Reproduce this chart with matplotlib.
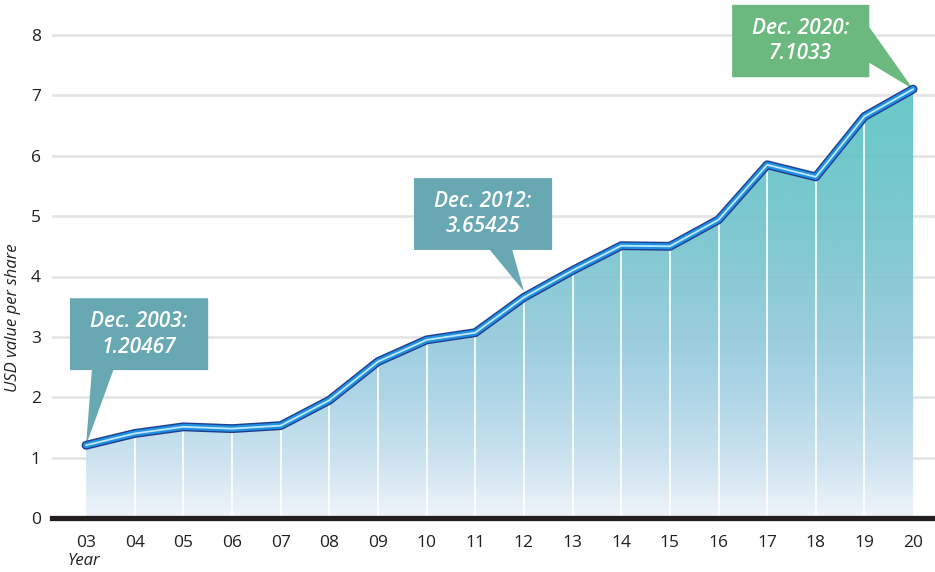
import numpy as np
import matplotlib
matplotlib.use("Agg")
import matplotlib.pyplot as plt
from matplotlib.colors import LinearSegmentedColormap
from matplotlib.patches import Polygon

# Data
years = ['03', '04', '05', '06', '07', '08', '09', '10', '11',
         '12', '13', '14', '15', '16', '17', '18', '19', '20']
values = [1.20467, 1.40, 1.51, 1.48, 1.53, 1.95, 2.59, 2.95, 3.07,
          3.65425, 4.10, 4.51, 4.50, 4.94, 5.85, 5.65, 6.65, 7.1033]
yticks = [0, 1, 2, 3, 4, 5, 6, 7, 8]

# callouts: (index, text, colour)
callouts = [(0, 'Dec. 2003:\n1.20467', '#67a8b2'),
            (9, 'Dec. 2012:\n3.65425', '#67a8b2'),
            (17, 'Dec. 2020:\n7.1033', '#6bb97f')]

x = np.arange(len(years))
y = np.array(values)

plt.rcParams['font.family'] = ['Open Sans', 'DejaVu Sans']

fig = plt.figure(figsize=(9.35, 5.72), dpi=100)
ax = fig.add_axes([52/935, 54/572, 883/935, 518/572])

# grid
for t in yticks[1:]:
    ax.axhline(t, color='#e4e4e4', lw=1.9, zorder=1)

# gradient fill under the curve
grad = LinearSegmentedColormap.from_list('g', [
    (0.0, '#eef4fa'), (0.14, '#c8e1ee'), (0.28, '#aad3e5'),
    (0.42, '#93cadb'), (0.63, '#79c4d0'), (0.85, '#66c4c8'),
    (1.0, '#5fc5c6')])
fill = ax.fill_between(x, 0, y, color='none', lw=0, zorder=2)
im = ax.imshow(np.linspace(0, 1, 256).reshape(-1, 1), cmap=grad,
               origin='lower', aspect='auto', alpha=0.93,
               extent=[x[0], x[-1], 0, y.max()], zorder=2)
im.set_clip_path(fill.get_paths()[0], transform=ax.transData)
ax.set_xlim(-0.70, 17.45)
ax.set_ylim(0, 518/60.375)

# white verticals in the fill
ax.vlines(x[1:-1], 0, y[1:-1], color='white', lw=1.2, zorder=3)

# zero line
ax.axhline(0, color='#231f20', lw=3.8, zorder=5, clip_on=False)

# callouts (drawn below the line)
for idx, txt, col in callouts:
    xi, yi = x[idx], y[idx]
    if idx == 0:
        x0, x1, y0, y1 = xi - 0.33, xi + 2.51, 2.45, 3.64
        poly = [(x0, y0), (xi + 0.12, y0), (xi, yi), (xi + 0.56, y0),
                (x1, y0), (x1, y1), (x0, y1)]
    elif idx == 9:
        x0, x1, y0, y1 = xi - 2.26, xi + 0.58, 4.44, 5.63
        poly = [(x0, y0), (xi - 0.70, y0), (xi, yi + 0.1), (xi - 0.24, y0),
                (x1, y0), (x1, y1), (x0, y1)]
    else:
        x0, x1, y0, y1 = xi - 3.72, xi - 0.90, 7.30, 8.50
        poly = [(x0, y0), (x1, y0), (x1, 7.54), (xi, yi), (x1, 8.13),
                (x1, y1), (x0, y1)]
    ax.add_patch(Polygon(poly, closed=True, fc=col, ec='none',
                         zorder=4, clip_on=False))
    ax.text((x0 + x1) / 2, (y0 + y1) / 2, txt, ha='center', va='center',
            color='white', fontsize=15, fontweight='semibold', style='italic',
            linespacing=1.3, zorder=6)

# the line: dark outline, blue body, light highlight
ax.plot(x, y, color='#213e8e', lw=6.4, solid_capstyle='round',
        solid_joinstyle='round', zorder=7)
ax.plot(x, y, color='#2090e0', lw=4.4, solid_capstyle='round',
        solid_joinstyle='round', zorder=8)
ax.plot(x, y, color='#c4e8fb', lw=1.3, solid_capstyle='round',
        solid_joinstyle='round', zorder=9)

# axes styling
for s in ax.spines.values():
    s.set_visible(False)
ax.set_xticks(x)
ax.set_xticklabels(years)
ax.set_yticks(yticks)
ax.tick_params(axis='both', length=0, labelsize=12.5, colors='#231f20')
ax.tick_params(axis='x', pad=12)
ax.tick_params(axis='y', pad=8)

ax.set_ylabel('USD value per share', fontsize=12, style='italic',
              color='#231f20')
ax.yaxis.set_label_coords(-0.035, 0.386)
ax.set_xlabel('Year', fontsize=12, style='italic', color='#231f20')
ax.xaxis.set_label_coords(0.036, -0.068)

fig.savefig('out.png', dpi=100)
